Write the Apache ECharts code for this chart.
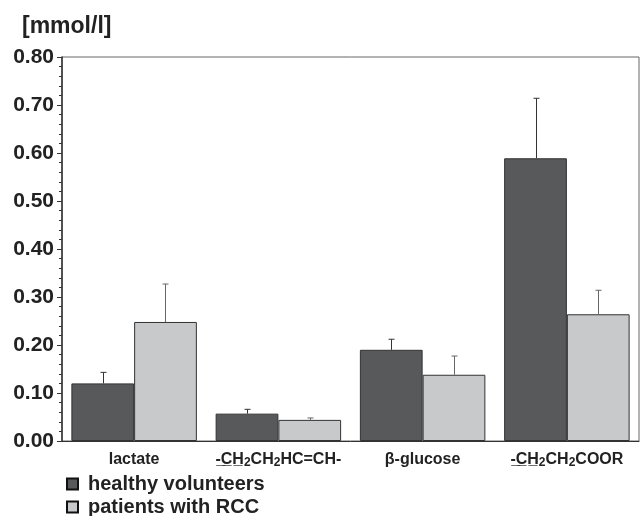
<!DOCTYPE html>
<html><head><meta charset="utf-8">
<script src="https://cdn.jsdelivr.net/npm/echarts@6/dist/echarts.min.js"></script>
<style>html,body{margin:0;padding:0;background:#fff}#c{width:640px;height:516px}</style>
</head><body><div id="c"></div>
<script>
var categories = ['lactate', '-\u0332C\u0332H\u0332\u2082CH\u2082HC=CH-', '\u03b2-glucose', '-\u0332C\u0332H\u0332\u2082CH\u2082COOR'];
var healthy = [0.12, 0.057, 0.19, 0.589];
var healthyErr = [0.023, 0.009, 0.022, 0.125];
var rcc = [0.248, 0.044, 0.138, 0.264];
var rccErr = [0.079, 0.004, 0.039, 0.05];
var seriesNames = ['healthy volunteers', 'patients with RCC'];
var yTicks = [0, 0.1, 0.2, 0.3, 0.4, 0.5, 0.6, 0.7, 0.8];

var catGap = 0.13;
var FONT = '"Liberation Sans", Arial, sans-serif';

function errSeries(name, vals, errs, side, color) {
  return {
    type: 'custom', name: name + ' err', z: 5,
    data: vals.map(function (v, i) { return [i, v, v + errs[i]]; }),
    renderItem: function (params, api) {
      var i = api.value(0);
      var bw = api.size([1, 0])[0] * (1 - catGap) / 2;
      var p0 = api.coord([i, api.value(1)]);
      var p1 = api.coord([i, api.value(2)]);
      var x = Math.round(p0[0] + side * bw / 2) + 0.5;
      var cap = 3;
      return {
        type: 'group', children: [
          { type: 'line', shape: { x1: x, y1: p0[1], x2: x, y2: p1[1] }, style: { stroke: color, lineWidth: 1 } },
          { type: 'line', shape: { x1: x - cap, y1: p1[1], x2: x + cap, y2: p1[1] }, style: { stroke: color, lineWidth: 1 } }
        ]
      };
    }
  };
}

function catLabel(s) {
  var out = '', buf = '';
  for (var k = 0; k < s.length; k++) {
    var ch = s[k];
    if (ch === '\u2082') {
      if (buf) { out += '{b|' + buf + '}'; buf = ''; }
      out += '{s|2}';
    } else buf += ch;
  }
  if (buf) out += '{b|' + buf + '}';
  return out;
}

function legendFor(name, top) {
  return {
    data: [name], orient: 'vertical', left: 66, top: top, padding: 0,
    itemWidth: 11, itemHeight: 11, icon: 'rect',
    itemStyle: { borderColor: '#111', borderWidth: 2 },
    textStyle: { fontFamily: FONT, fontSize: 20, fontWeight: 'bold', color: '#222', lineHeight: 20, padding: [0, 0, 0, 5] }
  };
}

var chart = echarts.init(document.getElementById('c'));
chart.setOption({
  animation: false,
  textStyle: { fontFamily: FONT },
  title: { text: '[mmol/l]', left: 17, top: 10, textStyle: { fontFamily: FONT, fontSize: 23, fontWeight: 'bold', color: '#222' } },
  grid: { left: 62, right: 1, top: 57, bottom: 75, show: true, borderColor: '#666', borderWidth: 1, backgroundColor: 'transparent' },
  legend: [legendFor(seriesNames[0], 474), legendFor(seriesNames[1], 497)],
  xAxis: {
    type: 'category', data: categories, boundaryGap: true,
    axisLine: { lineStyle: { color: '#333', width: 1 } },
    axisTick: { alignWithLabel: true, length: 4, lineStyle: { color: '#333' } },
    axisLabel: { interval: 0, margin: 10, formatter: function (v) { return catLabel(v); },
      rich: {
        b: { fontFamily: FONT, fontSize: 16, fontWeight: 'bold', color: '#222', lineHeight: 18 },
        s: { fontFamily: FONT, fontSize: 12, fontWeight: 'bold', color: '#222', lineHeight: 18, verticalAlign: 'bottom' }
      } }
  },
  yAxis: {
    type: 'value', min: 0, max: 0.8, interval: 0.1,
    axisLine: { show: true, lineStyle: { color: '#333', width: 1.5 } },
    axisTick: { show: true, length: 5, lineStyle: { color: '#333' } },
    minorTick: { show: true, splitNumber: 5, length: 3, lineStyle: { color: '#333' } },
    splitLine: { show: false },
    axisLabel: { fontFamily: FONT, fontSize: 21, fontWeight: 'bold', color: '#222', margin: 8,
      formatter: function (v) { return v.toFixed(2); } }
  },
  series: [
    { name: seriesNames[0], type: 'bar', data: healthy, barGap: '0%', barCategoryGap: (catGap * 100) + '%',
      itemStyle: { color: '#58595b', borderColor: '#333', borderWidth: 1 } },
    { name: seriesNames[1], type: 'bar', data: rcc, barGap: '0%', barCategoryGap: (catGap * 100) + '%',
      itemStyle: { color: '#c8c9cb', borderColor: '#333', borderWidth: 1 } },
    errSeries(seriesNames[0], healthy, healthyErr, -1, '#333'),
    errSeries(seriesNames[1], rcc, rccErr, 1, '#666')
  ]
});
</script></body></html>
